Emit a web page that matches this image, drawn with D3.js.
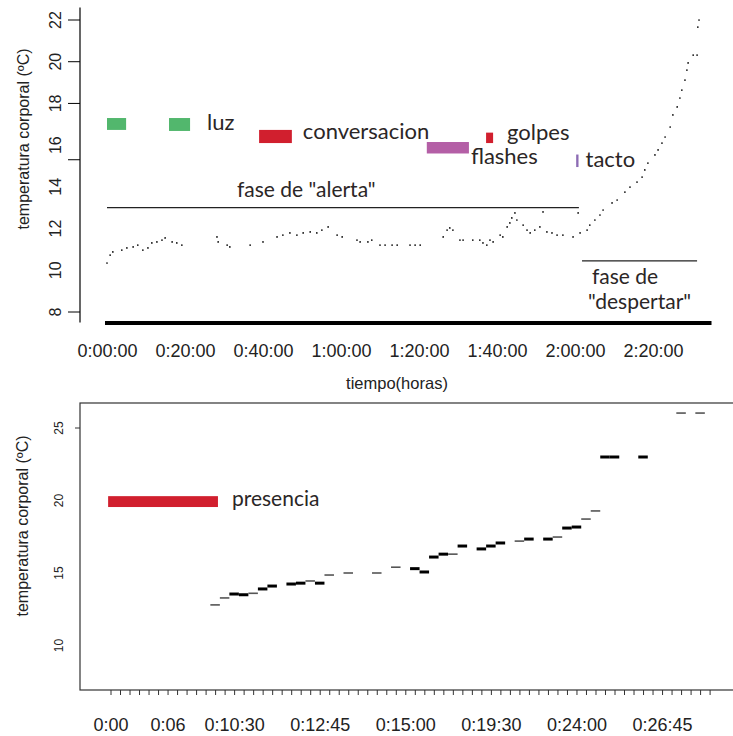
<!DOCTYPE html>
<html>
<head>
<meta charset="utf-8">
<script src="https://cdn.jsdelivr.net/npm/d3@7"></script>
<style>
  body { margin: 0; background: #fff; }
  svg { display: block; }
  .axis-text { font-family: "Liberation Sans", Arial, sans-serif; fill: #222; }
  .note { font-family: Lato, "Open Sans", sans-serif; fill: #2b2626; }
</style>
</head>
<body>
<svg id="chart" width="733" height="736"></svg>
<script>
// top panel: readings over time (minutes, degrees C)
const topMinutes = [
  0, 0.8, 1.5, 3.8, 5.1, 6.7, 7.9, 9.2, 10.5, 11.5, 12.8, 14.1, 14.9, 16.7, 17.9, 19.2,
  28.2, 28.5, 30.8, 31.5, 36.7, 40, 43.6, 45.1, 46.9, 48.7, 50.3, 52.1, 53.8, 55.1, 56.7,
  59, 60.3, 64.1, 64.9, 66.9, 67.9, 70, 71.3, 73.1, 74.4, 77.7, 79, 80.3, 86.2, 87.2, 87.9,
  88.7, 90.5, 91.3, 93.8, 95.6, 96.4, 97.4, 98.2, 99, 100.8, 101.5, 102.6, 103.3, 103.8,
  104.6, 105.1, 106.7, 107.7, 108.5, 109.7, 111, 111.8, 112.8, 114.1, 115.4, 116.9, 119.5,
  120.8, 121.3, 123.1, 123.8, 125.1, 126.4, 127.2, 129.5, 130.8, 132.8, 134.1, 135.9,
  137.2, 137.9, 138.7, 140.5, 141.3, 142.3, 143.1, 144.4, 145.1, 146.2, 146.9, 147.4,
  148.2, 148.7, 149, 150.3, 151.3, 151.5, 151.8,
];
const topTemps = [
  10.35, 10.73, 10.88, 10.97, 11.07, 11.12, 11.21, 10.97, 11.07, 11.31, 11.36, 11.45, 11.55, 11.36, 11.31, 11.21,
  11.6, 11.36, 11.21, 11.12, 11.21, 11.36, 11.6, 11.69, 11.79, 11.69, 11.79, 11.84, 11.79, 11.93, 12.08,
  11.69, 11.6, 11.45, 11.36, 11.36, 11.45, 11.21, 11.21, 11.21, 11.21, 11.21, 11.21, 11.21, 11.6, 11.93, 12.03,
  11.93, 11.45, 11.45, 11.45, 11.45, 11.31, 11.21, 11.45, 11.36, 11.69, 11.6, 12.08, 12.27, 12.51,
  12.75, 12.41, 12.17, 11.93, 11.79, 11.93, 12.08, 12.8, 11.84, 11.79, 11.69, 11.69, 11.6,
  12.75, 11.79, 11.93, 12.17, 12.41, 12.65, 12.89, 13.23, 13.37, 13.75, 13.99, 14.23,
  14.47, 14.81, 15.14, 15.53, 15.77, 16.1, 16.39, 16.87, 17.45, 17.83, 18.26, 18.64,
  19.12, 19.6, 19.94, 20.32, 20.32, 21.66, 22.0,
];
const topXTicks = [0, 20, 40, 60, 80, 100, 120, 140];
const topYLabels = [22, 20, 18, 16, 14, 12, 10, 8];
const topYTickMarks = [22, 20, 18, 15.3, 8];

const eventLabels = ["", "luz", "conversacion", "flashes", "golpes", "tacto"];
const eventStart = [0, 15.9, 39, 82, 97.2, 120.3];
const eventEnd = [4.9, 21.3, 47.4, 92.8, 99, 120.9];
const eventLow = [16.73, 16.68, 16.1, 15.6, 16.1, 14.95];
const eventHigh = [17.3, 17.3, 16.73, 16.15, 16.6, 15.55];

const phaseStart = [0, 121.8];
const phaseEnd = [121, 151.3];
const phaseLevel = [13.0, 10.45];

// bottom panel: one dash per sample slot
const bottomIndex = [11, 12, 13, 14, 15, 16, 17, 19, 20, 21, 22, 23, 25, 28, 30, 32, 33, 34, 35,
  36, 37, 39, 40, 41, 43, 44, 46, 47, 48, 49, 50, 51, 52, 53, 56, 60, 62];
const bottomTemps = [12.8, 13.28, 13.55, 13.5, 13.6, 13.9, 14.1, 14.24, 14.3, 14.45, 14.3, 14.86,
  15.0, 15.0, 15.4, 15.3, 15.07, 16.1, 16.3, 16.3, 16.86, 16.66, 16.86, 17.07, 17.2, 17.34, 17.34,
  17.48, 18.1, 18.17, 18.72, 19.28, 23.0, 23.0, 23.0, 26.03, 26.03];
const bottomReadings = [1, 1, 2, 2, 1, 2, 2, 2, 2, 1, 2, 1, 1, 1, 1, 2, 2, 2, 2, 1, 2, 2, 2, 2, 1,
  2, 2, 1, 2, 2, 1, 1, 2, 2, 2, 1, 1];
const bottomTickLabels = ["0:00", "0:06", "0:10:30", "0:12:45", "0:15:00", "0:19:30", "0:24:00", "0:26:45"];
const bottomTickLabelIndex = [0, 6, 13, 22, 31, 40, 49, 58];
const bottomYLabels = [25, 20, 15, 10];
const presence = { start: -0.25, end: 11.3, low: 19.55, high: 20.3 };

const svg = d3.select("#chart");

const eventColours = ["#52b76d", "#52b76d", "#d11f2e", "#b45fa6", "#d11f2e", "#8c6bb4"];
const labelDx = [0, 17, 11, 2, 14, 7];
const labelDy = [0, -1, -4, 11, -3, 0];

const fmtTop = (m) => `${Math.floor(m / 60)}:${String(m % 60).padStart(2, "0")}:00`;

const drawTop = () => {
  const x = d3.scaleLinear().domain([0, 140]).range([107, 653]);
  const y = d3.scaleLinear().domain([8, 22]).range([312, 20]);
  const g = svg.append("g").attr("class", "top-chart");

  // left axis line, tick marks and rotated labels
  g.append("line")
    .attr("x1", 80).attr("x2", 80)
    .attr("y1", y(22.6)).attr("y2", y(7.5))
    .style("stroke", "#000").style("stroke-width", 1.2);

  g.selectAll("line.ytick")
    .data(topYTickMarks)
    .join("line")
    .attr("class", "ytick")
    .attr("x1", 68).attr("x2", 80)
    .attr("y1", (d) => y(d)).attr("y2", (d) => y(d))
    .style("stroke", "#000");

  g.selectAll("text.ylab")
    .data(topYLabels)
    .join("text")
    .attr("class", "ylab axis-text")
    .attr("transform", (d) => `translate(55,${y(d)}) rotate(-90)`)
    .attr("dy", "0.36em")
    .attr("text-anchor", "middle")
    .style("font-size", "16px")
    .text((d) => d);

  g.append("text")
    .attr("class", "axis-text")
    .attr("transform", "translate(23,139) rotate(-90)")
    .attr("dy", "0.36em")
    .attr("text-anchor", "middle")
    .style("font-size", "16px")
    .text("temperatura corporal (ºC)");

  // bottom axis: thick base line plus labels
  const xAxis = d3.axisBottom(x).tickValues(topXTicks).tickSize(0).tickPadding(21).tickFormat(fmtTop);
  const xg = g.append("g").attr("transform", `translate(0,${y(7.47)})`).call(xAxis);
  xg.select(".domain").remove();
  xg.selectAll("text")
    .attr("class", "axis-text")
    .style("font-size", "18px");

  g.append("line")
    .attr("x1", x(0) - 2).attr("x2", x(155))
    .attr("y1", y(7.47)).attr("y2", y(7.47))
    .style("stroke", "#000").style("stroke-width", 4);

  g.append("text")
    .attr("class", "axis-text")
    .attr("x", 397).attr("y", 389)
    .attr("text-anchor", "middle")
    .style("font-size", "16.5px")
    .text("tiempo(horas)");

  // event bars
  g.selectAll("rect.event")
    .data(eventStart)
    .join("rect")
    .attr("class", "event")
    .attr("x", (d) => x(d))
    .attr("width", (d, i) => x(eventEnd[i]) - x(d))
    .attr("y", (d, i) => y(eventHigh[i]))
    .attr("height", (d, i) => y(eventLow[i]) - y(eventHigh[i]))
    .style("fill", (d, i) => eventColours[i]);

  g.selectAll("text.event-label")
    .data(eventLabels)
    .join("text")
    .attr("class", "event-label note")
    .attr("x", (d, i) => x(eventEnd[i]) + labelDx[i])
    .attr("y", (d, i) => y(eventLow[i]) + labelDy[i])
    .style("font-size", "22px")
    .text((d) => d);

  // phase lines
  g.selectAll("line.phase")
    .data(phaseStart)
    .join("line")
    .attr("class", "phase")
    .attr("x1", (d) => x(d))
    .attr("x2", (d, i) => x(phaseEnd[i]))
    .attr("y1", (d, i) => y(phaseLevel[i]))
    .attr("y2", (d, i) => y(phaseLevel[i]))
    .style("stroke", "#222").style("stroke-width", 1.2);

  g.append("text")
    .attr("class", "note")
    .attr("x", x(phaseStart[0]) + 130)
    .attr("y", y(phaseLevel[0]) - 11)
    .style("font-size", "21px")
    .text('fase de "alerta"');

  const wake = g.append("text")
    .attr("class", "note")
    .attr("x", x(phaseStart[1]) + 10)
    .attr("y", y(phaseLevel[1]) + 23)
    .style("font-size", "21px");
  wake.append("tspan").text("fase de");
  wake.append("tspan")
    .attr("x", x(phaseStart[1]) + 6)
    .attr("dy", 25)
    .text('"despertar"');

  // the readings
  g.selectAll("circle.dot")
    .data(topMinutes)
    .join("circle")
    .attr("class", "dot")
    .attr("cx", (d) => x(d))
    .attr("cy", (d, i) => y(topTemps[i]))
    .attr("r", 0.85)
    .style("fill", "#000");
};

const drawBottom = () => {
  const x = d3.scaleLinear().domain([0, 63]).range([110.5, 709.6]);
  const y = d3.scaleLinear().domain([10, 25]).range([645.5, 428]);
  const g = svg.append("g").attr("class", "bottom-chart");
  const frame = { left: 80, top: 403, right: 745, bottom: 690 };

  g.append("rect")
    .attr("x", frame.left).attr("y", frame.top)
    .attr("width", frame.right - frame.left)
    .attr("height", frame.bottom - frame.top)
    .style("fill", "none").style("stroke", "#333").style("stroke-width", 1.2);

  const labelAt = new Map(bottomTickLabelIndex.map((d, i) => [d, bottomTickLabels[i]]));
  const xAxis = d3.axisBottom(x)
    .tickValues(d3.range(64))
    .tickSize(5)
    .tickPadding(23)
    .tickFormat((d) => labelAt.get(d) || "");
  const xg = g.append("g").attr("transform", `translate(0,${frame.bottom})`).call(xAxis);
  xg.select(".domain").remove();
  xg.selectAll("line").style("stroke", "#333");
  xg.selectAll("text")
    .attr("class", "axis-text")
    .style("font-size", "18px");

  g.append("line")
    .attr("x1", frame.left - 5).attr("x2", frame.left)
    .attr("y1", y(25)).attr("y2", y(25))
    .style("stroke", "#333");

  g.selectAll("text.ylab")
    .data(bottomYLabels)
    .join("text")
    .attr("class", "ylab axis-text")
    .attr("transform", (d) => `translate(59,${y(d)}) rotate(-90)`)
    .attr("dy", "0.36em")
    .attr("text-anchor", "middle")
    .style("font-size", "12px")
    .text((d) => d);

  g.append("text")
    .attr("class", "axis-text")
    .attr("transform", "translate(22,526) rotate(-90)")
    .attr("dy", "0.36em")
    .attr("text-anchor", "middle")
    .style("font-size", "16px")
    .text("temperatura corporal (ºC)");

  g.append("rect")
    .attr("x", x(presence.start))
    .attr("width", x(presence.end) - x(presence.start))
    .attr("y", y(presence.high))
    .attr("height", y(presence.low) - y(presence.high))
    .style("fill", "#d11f2e");

  g.append("text")
    .attr("class", "note")
    .attr("x", x(presence.end) + 14)
    .attr("y", y(presence.low) - 1)
    .style("font-size", "21px")
    .text("presencia");

  const half = (x(1) - x(0)) / 2;
  g.selectAll("line.dash")
    .data(bottomIndex)
    .join("line")
    .attr("class", "dash")
    .attr("x1", (d) => x(d) - half)
    .attr("x2", (d) => x(d) + half)
    .attr("y1", (d, i) => y(bottomTemps[i]))
    .attr("y2", (d, i) => y(bottomTemps[i]))
    .style("stroke", (d, i) => (bottomReadings[i] > 1 ? "#000" : "#555"))
    .style("stroke-width", (d, i) => (bottomReadings[i] > 1 ? 3 : 1.6));
};

drawTop();
drawBottom();
</script>
</body>
</html>
